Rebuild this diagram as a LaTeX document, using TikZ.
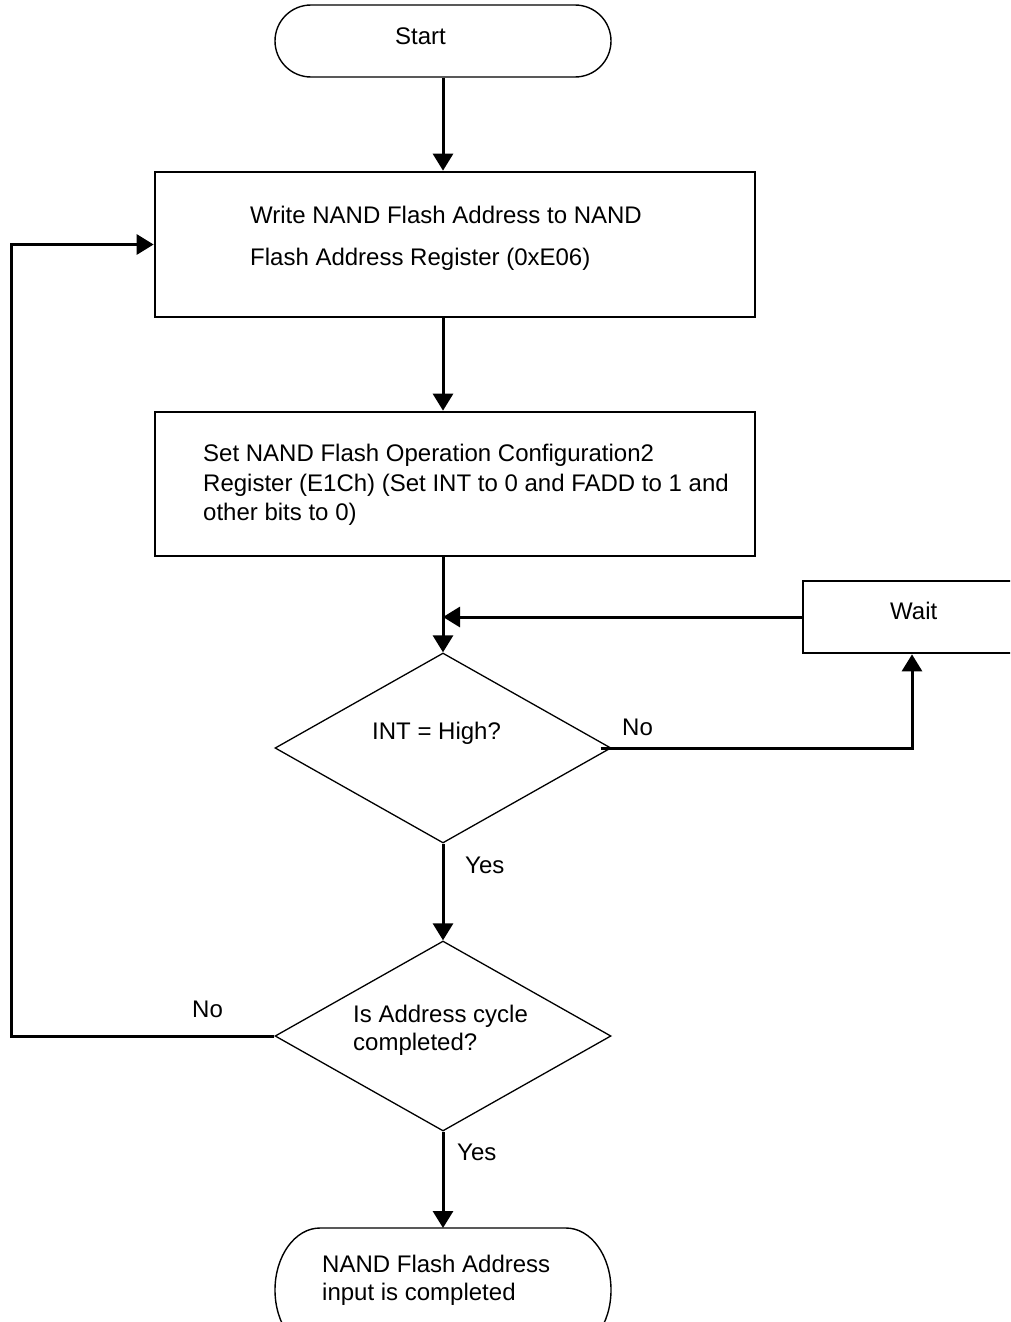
\documentclass[tikz,border=0pt]{standalone}
\usepackage{fontspec}
\setmainfont{Liberation Sans}
\usetikzlibrary{shapes.geometric,shapes.misc,arrows.meta}
\begin{document}
\begin{tikzpicture}[x=1pt,y=-1pt,
  txt/.style={font=\fontsize{24}{29}\selectfont, inner sep=0pt, anchor=base west, text=black},
  boxst/.style={draw, line width=2.7pt, minimum width=600pt, minimum height=145pt, inner sep=0pt},
  dia/.style={draw, diamond, line width=1.3pt, minimum width=336pt, minimum height=190pt, inner sep=0pt},
  term/.style={draw, rounded rectangle, line width=1.4pt, inner sep=0pt, minimum width=336pt},
  termline/.style={draw, line width=1.4pt},
  conn/.style={line width=3pt},
  arr/.style={conn, -{Triangle[length=17pt,width=20pt]}}]
\useasboundingbox (0,0) rectangle (1010,1322);
\fill[white] (0,0) rectangle (1010,1322);
\clip (0,0) rectangle (1010,1322);

% shapes
\node[term, minimum height=72pt] (start) at (443,41) {};
\node[txt] (starttxt) at (395,45) {Start};

\node[boxst] (b1) at (455,244.5) {};
\node[txt] (b1t1) at (250,223) {Write NAND Flash Address to NAND};
\node[txt] (b1t2) at (250,265) {Flash Address Register (0xE06)};

\node[boxst, minimum height=144pt] (b2) at (455,484) {};
\node[txt] (b2t1) at (203,461) {Set NAND Flash Operation Configuration2};
\node[txt] (b2t2) at (203,491) {Register (E1Ch) (Set INT to 0 and FADD to 1 and};
\node[txt] (b2t3) at (203,520) {other bits to 0)};

\node[dia] (d1) at (443,748) {};
\node[txt] (d1t) at (372,739) {INT = High?};

\node[boxst, minimum width=230pt, minimum height=72pt] (wait) at (918,617) {};
\node[txt] (waitt) at (890,619) {Wait};

\node[dia] (d2) at (443,1036) {};
\node[txt] (d2t1) at (353,1022) {Is Address cycle};
\node[txt] (d2t2) at (353,1050) {completed?};

% end terminator: named frame, outlined with elliptical ends
\node[minimum width=336pt, minimum height=124pt, inner sep=0pt, outer sep=0pt] (end) at (443,1290) {};
\path[termline] ([xshift=45pt]end.north west) -- ([xshift=-45pt]end.north east)
  arc[start angle=90, end angle=-90, x radius=45pt, y radius=62pt]
  -- ([xshift=45pt]end.south west)
  arc[start angle=270, end angle=90, x radius=45pt, y radius=62pt] -- cycle;
\node[txt] (endt1) at (322,1272) {NAND Flash Address};
\node[txt] (endt2) at (322,1300) {input is completed};

% connectors
\coordinate (j1) at (d1.north |- wait.west);
\coordinate (lc) at (11,244.5);
\draw[arr] (start.south) -- (start.south |- b1.north);
\draw[arr] (b1.south -| start.south) -- (start.south |- b2.north);
\draw[arr] (b2.south -| start.south) -- (d1.north);
\draw[arr] (wait.west) -- (j1);
\draw[arr] ([xshift=-11pt]d1.east) -| ([xshift=-6pt]wait.south);
\draw[arr] (d1.south) -- (d2.north);
\draw[arr] (d2.west) -| (lc) -- (b1.west);
\draw[arr] (d2.south) -- (end.north);

% labels
\node[txt] (no1) at (622,735) {No};
\node[txt] (yes1) at (465,873) {Yes};
\node[txt] (no2) at (192,1017) {No};
\node[txt] (yes2) at (457,1160) {Yes};
\end{tikzpicture}
\end{document}
